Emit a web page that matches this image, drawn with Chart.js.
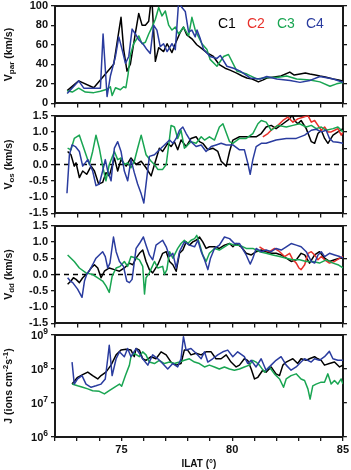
<!DOCTYPE html>
<html><head><meta charset="utf-8">
<script src="https://cdn.jsdelivr.net/npm/chart.js@4/dist/chart.umd.min.js"></script>
<style>
html,body{margin:0;padding:0;background:#fff;}
#wrap{position:relative;width:351px;height:470px;overflow:hidden;background:#fff;}
canvas{position:absolute;left:0;}
</style></head><body><div id="wrap">
<canvas id="p1"></canvas><canvas id="p2"></canvas><canvas id="p3"></canvas><canvas id="p4"></canvas>
</div>
<script>
// ---------------- DATA (ILAT in degrees, value) ----------------
const ilatTicks = [72,73,74,75,76,77,78,79,80,81,82,83,84,85];
const ilatLabels = [75,80,85];
const vparTicks = [0,20,40,60,80,100];
const vTicks = [-1.5,-1.0,-0.5,0,0.5,1.0,1.5];
const jTicks = [1e6,1e7,1e8,1e9];
const zeroRef = [[72,0],[85,0]];

// V_par (km/s)
const vparC1 = [[72.55,13],[73.07,23],[73.75,16],[74.2,28],[74.65,40],[74.87,72],[74.98,88],[75.1,55],[75.25,33],[75.4,40],[75.63,72],[75.78,92],[75.93,80],[76.08,80],[76.23,84],[76.3,98],[76.38,104],[76.53,43],[76.68,57],[76.9,53],[77.06,61],[77.28,52],[77.43,61],[77.66,73],[77.8,78],[77.95,70],[78.18,66],[78.4,60],[78.63,56],[78.85,52],[79.15,48],[79.4,40],[79.68,36],[79.9,34],[80.2,31],[80.45,28],[80.66,26],[80.9,25],[81.18,22],[81.4,24],[81.56,26],[81.9,27],[82.2,28],[82.6,32],[82.8,29],[83.06,30],[83.3,31],[83.5,30],[83.75,29],[83.96,28],[84.2,27],[84.56,25],[84.8,24],[85.0,23]];
const vparC3 = [[72.55,13],[72.78,11.6],[73.07,15.6],[73.37,11.6],[73.75,11],[74.05,12.5],[74.35,14.5],[74.5,17],[74.58,8],[74.73,16],[74.95,14],[75.1,17],[75.2,16],[75.3,30],[75.4,49.5],[75.55,61],[75.78,69],[75.93,61],[76.08,62.5],[76.23,71],[76.38,78],[76.53,86],[76.68,98],[76.83,89.5],[76.98,94.5],[77.13,80],[77.28,75],[77.43,78],[77.58,71],[77.8,78],[78.03,69],[78.18,88],[78.33,75],[78.48,68],[78.63,61],[78.86,55],[79.0,45],[79.31,38],[79.61,48],[79.83,50],[80.21,33],[80.66,30],[81.11,25],[81.56,26.5],[82.01,26.5],[82.46,28],[82.91,25],[83.51,24],[83.96,22],[84.41,17.5],[84.71,20],[85.0,21.5]];
const vparC4 = [[72.55,10],[73.07,23],[73.3,15.6],[74.05,15.6],[74.17,71],[74.35,7],[74.5,28],[74.73,48],[74.88,68],[75.03,55],[75.18,41],[75.33,48],[75.48,76],[75.63,71],[75.78,65],[76.0,60],[76.15,55],[76.3,51],[76.45,80],[76.6,75],[76.75,58],[76.9,61],[77.06,53],[77.28,61],[77.43,55],[77.58,104],[77.73,98],[77.88,94],[78.03,73],[78.18,75],[78.33,68],[78.41,75],[78.56,66],[78.71,55],[79.0,48],[79.31,46],[79.46,49],[79.76,38],[80.06,36],[80.36,33],[80.81,26],[81.26,25],[81.56,27.5],[82.01,25],[82.61,23.5],[83.06,21.5],[83.51,23.5],[83.96,27.5],[84.56,25],[85.0,21.5]];

// V_os (km/s)
const vosC1 = [[72.57,0.40],[72.72,0.30],[72.87,-0.05],[72.95,0.05],[73.10,-0.40],[73.25,-0.20],[73.43,-0.30],[73.63,-0.05],[73.78,-0.20],[73.97,-0.60],[74.15,-0.55],[74.30,-0.25],[74.45,-0.35],[74.68,0.20],[74.83,-0.20],[74.98,0.15],[75.21,-0.05],[75.43,0.20],[75.66,0.00],[75.89,0.10],[76.11,-0.10],[76.34,-0.35],[76.49,0.00],[76.71,0.50],[76.86,0.40],[77.09,0.65],[77.24,0.55],[77.39,0.70],[77.54,0.45],[77.69,0.75],[77.92,0.55],[78.14,0.80],[78.37,0.85],[78.52,0.70],[78.67,0.65],[78.90,0.45],[79.12,0.50],[79.35,0.40],[79.50,0.10],[79.73,-0.05],[79.88,0.40],[80.03,0.75],[80.33,0.85],[80.70,0.85],[81.08,0.85],[81.31,0.95],[81.53,1.15],[81.76,1.20],[81.98,1.10],[82.29,1.25],[82.59,1.40],[82.71,1.52],[82.81,1.35],[82.96,1.25],[83.11,1.35],[83.34,1.10],[83.57,0.70],[83.72,0.65],[83.87,0.95],[84.02,1.05],[84.17,0.80],[84.32,0.65],[84.55,0.90],[84.77,1.00],[85.00,1.10]];
const vosC2 = [[81.38,0.85],[81.61,0.95],[81.83,1.10],[82.06,1.20],[82.29,1.35],[82.51,1.45],[82.74,1.30],[82.96,1.40],[83.19,1.45],[83.42,1.50],[83.57,1.30],[83.72,1.35],[83.87,1.20],[84.02,1.05],[84.17,1.15],[84.32,1.00],[84.47,1.00],[84.62,1.05],[84.77,1.10],[84.92,0.90],[85.00,1.00]];
const vosC3 = [[72.57,0.50],[72.72,0.45],[72.87,0.80],[73.10,0.90],[73.25,0.60],[73.40,0.30],[73.55,0.00],[73.70,0.40],[73.85,0.90],[74.00,0.50],[74.15,-0.05],[74.30,-0.50],[74.45,0.00],[74.68,0.40],[74.83,0.15],[74.98,0.20],[75.13,0.00],[75.28,0.05],[75.43,-0.10],[75.58,0.10],[75.73,0.50],[75.89,0.90],[76.11,0.30],[76.34,0.10],[76.49,0.00],[76.64,-0.15],[76.86,-0.15],[77.02,0.00],[77.17,0.80],[77.24,1.20],[77.39,1.15],[77.54,0.80],[77.69,1.05],[77.84,0.50],[77.99,0.60],[78.14,0.70],[78.37,0.65],[78.60,0.85],[78.75,0.75],[78.97,0.85],[79.20,0.75],[79.42,1.15],[79.58,1.25],[79.88,0.70],[80.03,0.65],[80.33,0.80],[80.63,0.80],[80.93,0.95],[81.16,1.25],[81.31,1.35],[81.53,1.30],[81.76,1.05],[82.06,1.20],[82.44,1.15],[82.74,1.20],[83.04,1.25],[83.34,1.15],[83.57,1.20],[83.79,1.10],[84.02,1.15],[84.24,1.05],[84.55,1.10],[84.77,1.15],[85.00,1.00]];
const vosC4 = [[72.54,-0.88],[72.65,0.30],[72.77,0.60],[72.92,0.55],[73.10,0.40],[73.25,-0.05],[73.48,0.15],[73.70,-0.20],[73.85,-0.65],[74.00,-0.60],[74.15,-0.20],[74.27,0.15],[74.38,-0.20],[74.53,-0.50],[74.68,0.50],[74.83,0.70],[74.98,0.40],[75.13,-0.20],[75.28,-0.50],[75.43,0.15],[75.58,-0.25],[75.73,-0.60],[75.89,-0.90],[76.01,-1.18],[76.11,-0.60],[76.26,0.25],[76.49,0.30],[76.71,0.45],[76.94,0.60],[77.17,0.75],[77.32,0.65],[77.47,0.80],[77.62,1.05],[77.77,1.15],[77.92,0.95],[78.14,0.70],[78.37,0.55],[78.60,0.60],[78.82,0.40],[79.05,0.55],[79.27,0.60],[79.50,0.65],[79.73,0.60],[80.03,0.60],[80.33,0.45],[80.55,0.45],[80.70,0.05],[80.81,-0.30],[80.93,0.15],[81.08,0.55],[81.31,0.65],[81.53,0.65],[81.98,0.75],[82.44,0.80],[82.89,0.80],[83.27,0.90],[83.57,1.05],[83.79,1.08],[84.02,1.00],[84.24,1.05],[84.39,0.80],[84.55,0.70],[84.77,0.68],[85.00,0.65]];

// V_dd (km/s)
const vddC1 = [[72.57,-0.30],[72.72,-0.20],[72.83,-0.10],[72.95,-0.15],[73.10,-0.25],[73.25,-0.10],[73.48,0.05],[73.63,0.20],[73.78,0.30],[73.93,0.20],[74.08,-0.10],[74.23,0.10],[74.45,0.20],[74.68,0.15],[74.91,0.10],[75.13,0.20],[75.36,0.35],[75.51,0.30],[75.66,0.50],[75.81,0.65],[75.96,0.75],[76.11,0.40],[76.26,0.15],[76.41,0.05],[76.64,0.30],[76.86,0.65],[77.02,0.70],[77.17,0.40],[77.32,0.30],[77.47,0.10],[77.62,0.65],[77.77,0.75],[77.92,1.00],[78.07,0.90],[78.22,1.00],[78.37,1.05],[78.52,1.15],[78.67,1.00],[78.82,0.80],[78.97,0.85],[79.20,0.85],[79.42,0.80],[79.65,0.90],[79.88,0.95],[80.03,0.85],[80.18,0.95],[80.40,0.85],[80.63,0.65],[80.86,0.60],[81.08,0.70],[81.31,0.75],[81.53,0.70],[81.76,0.65],[81.98,0.65],[82.21,0.60],[82.44,0.50],[82.66,0.40],[82.89,0.45],[83.11,0.65],[83.27,0.60],[83.49,0.35],[83.72,0.60],[83.94,0.70],[84.17,0.50],[84.39,0.40],[84.62,0.45],[84.85,0.50],[85.00,0.50]];
const vddC2 = [[81.23,0.85],[81.46,0.75],[81.68,0.70],[81.91,0.80],[82.14,0.70],[82.36,0.55],[82.59,0.65],[82.74,0.45],[82.89,0.35],[83.01,0.20],[83.11,0.15],[83.27,0.30],[83.42,0.65],[83.57,0.70],[83.72,0.60],[83.87,0.45],[84.02,0.55],[84.17,0.45],[84.39,0.35],[84.62,0.40],[84.85,0.50],[85.00,0.55]];
const vddC3 = [[72.57,0.60],[72.72,0.50],[72.87,0.40],[73.10,0.20],[73.40,0.05],[73.70,0.00],[73.93,-0.10],[74.15,-0.20],[74.30,-0.35],[74.45,-0.55],[74.58,-0.05],[74.76,0.20],[74.94,0.25],[75.13,0.40],[75.28,0.25],[75.43,0.55],[75.66,0.50],[75.81,0.45],[75.96,0.25],[76.04,-0.60],[76.11,-0.10],[76.26,0.05],[76.49,0.40],[76.64,0.20],[76.86,0.25],[76.94,0.00],[77.05,0.15],[77.17,0.70],[77.32,0.50],[77.54,0.80],[77.69,0.95],[77.84,1.05],[77.99,0.95],[78.14,1.05],[78.30,1.10],[78.40,1.20],[78.52,0.95],[78.67,0.60],[78.82,0.40],[78.97,0.65],[79.20,0.80],[79.42,0.75],[79.65,0.85],[79.88,0.95],[80.10,0.90],[80.33,0.90],[80.63,0.80],[80.93,0.80],[81.23,0.70],[81.53,0.65],[81.83,0.60],[82.14,0.55],[82.44,0.50],[82.74,0.45],[83.04,0.45],[83.34,0.40],[83.64,0.40],[83.94,0.35],[84.24,0.45],[84.55,0.35],[84.77,0.30],[85.00,0.20]];
const vddC4 = [[72.57,-0.10],[72.69,-0.20],[72.80,-0.25],[73.02,-0.45],[73.22,-0.70],[73.33,-0.20],[73.43,0.00],[73.58,0.15],[73.70,0.30],[73.85,0.50],[74.00,0.60],[74.15,0.70],[74.27,0.55],[74.38,0.20],[74.48,0.35],[74.64,1.15],[74.76,0.70],[74.91,0.40],[75.09,0.25],[75.24,-0.20],[75.36,-0.25],[75.48,-0.15],[75.66,0.80],[75.81,0.95],[75.99,1.15],[76.11,0.90],[76.26,0.60],[76.41,0.45],[76.56,0.90],[76.86,1.05],[77.02,0.85],[77.17,0.55],[77.32,0.65],[77.47,0.20],[77.62,0.70],[77.84,1.00],[78.07,0.90],[78.30,0.85],[78.45,1.05],[78.60,0.70],[78.75,0.45],[78.90,0.15],[79.02,0.50],[79.20,0.80],[79.42,0.90],[79.65,1.15],[79.88,1.10],[80.10,0.95],[80.33,0.95],[80.63,0.60],[80.81,0.32],[80.93,0.50],[81.08,0.80],[81.31,0.70],[81.53,0.75],[81.76,0.70],[81.98,0.80],[82.21,0.75],[82.44,0.85],[82.66,0.95],[82.89,0.90],[83.11,0.85],[83.34,0.70],[83.57,0.40],[83.72,0.35],[83.87,0.60],[84.02,0.70],[84.17,0.55],[84.39,0.65],[84.62,0.60],[84.85,0.55],[85.00,0.50]];

// J (ions cm^-2 s^-1)
const jC1 = [[72.77,3.6e7],[73.02,5.7e7],[73.25,6.8e7],[73.48,8.1e7],[73.70,6.4e7],[73.93,5.1e7],[74.08,6.4e7],[74.30,8.1e7],[74.53,1.3e8],[74.76,2.6e8],[74.98,3.6e8],[75.21,3.8e8],[75.43,3.6e8],[75.58,2.3e8],[75.66,4.0e8],[75.81,3.6e8],[75.96,2.0e8],[76.11,1.8e8],[76.34,2.3e8],[76.56,2.0e8],[76.79,3.2e8],[77.02,2.6e8],[77.24,1.6e8],[77.47,1.3e8],[77.69,1.45e8],[77.84,3.6e8],[77.99,3.6e8],[78.14,2.6e8],[78.37,2.9e8],[78.60,2.6e8],[78.82,3.2e8],[79.05,3.2e8],[79.27,2.0e8],[79.50,2.0e8],[79.73,2.6e8],[79.95,1.6e8],[80.18,1.15e8],[80.33,1.3e8],[80.55,2.0e8],[80.70,1.8e8],[80.86,1.0e8],[81.01,5.1e7],[81.16,5.7e7],[81.38,9.2e7],[81.53,8.1e7],[81.76,1.15e8],[81.98,7.2e7],[82.14,6.4e7],[82.29,1.3e8],[82.44,1.6e8],[82.59,1.8e8],[82.74,2.0e8],[82.96,1.45e8],[83.11,2.0e8],[83.34,1.8e8],[83.49,2.0e8],[83.72,2.3e8],[83.87,2.0e8],[84.02,1.8e8],[84.17,1.3e8],[84.39,1.45e8],[84.62,1.6e8],[84.85,1.15e8],[85.00,1.3e8]];
const jC3 = [[72.77,3.6e7],[73.02,3.2e7],[73.25,2.9e7],[73.48,2.6e7],[73.70,2.3e7],[74.00,2.2e7],[74.23,1.85e7],[74.45,2.3e7],[74.68,2.9e7],[74.91,3.6e7],[75.01,3.1e7],[75.18,6.4e7],[75.36,1.3e8],[75.43,2.3e8],[75.58,2.9e8],[75.81,2.3e8],[75.96,3.2e8],[76.11,2.6e8],[76.26,1.6e8],[76.49,1.45e8],[76.71,1.8e8],[76.94,1.45e8],[77.17,1.6e8],[77.39,1.45e8],[77.62,1.6e8],[77.84,1.8e8],[78.07,2.0e8],[78.30,1.6e8],[78.52,1.45e8],[78.75,1.15e8],[78.97,1.3e8],[79.20,1.15e8],[79.42,1.0e8],[79.65,1.15e8],[79.88,1.0e8],[80.10,9.2e7],[80.33,1.0e8],[80.55,1.15e8],[80.78,1.3e8],[80.93,1.8e8],[81.08,1.6e8],[81.23,1.3e8],[81.46,8.1e7],[81.68,1.15e8],[81.91,7.2e7],[82.14,5.1e7],[82.32,2.9e7],[82.44,5.1e7],[82.66,6.4e7],[82.89,7.2e7],[83.11,5.1e7],[83.27,4.6e7],[83.42,2.6e7],[83.52,1.3e7],[83.64,3.2e7],[83.79,3.6e7],[84.02,4.1e7],[84.17,4.1e7],[84.32,7.2e7],[84.47,3.6e7],[84.62,4.6e7],[84.77,3.6e7],[84.92,5.1e7],[85.00,3.6e7]];
const jC4 = [[72.77,1.6e8],[72.87,3.6e7],[73.02,5.1e7],[73.22,6.4e7],[73.40,3.6e7],[73.63,2.9e7],[73.85,3.2e7],[74.08,3.6e7],[74.27,5.1e7],[74.38,2.0e8],[74.45,5.0e8],[74.58,6.4e7],[74.76,2.0e8],[74.91,3.2e8],[75.13,2.3e8],[75.28,4.0e8],[75.43,2.3e8],[75.66,4.0e8],[75.81,2.9e8],[75.96,2.0e8],[76.19,1.3e8],[76.41,2.6e8],[76.64,2.0e8],[76.86,1.45e8],[77.09,1.0e8],[77.32,1.45e8],[77.54,1.15e8],[77.69,2.0e8],[77.80,8.9e8],[77.92,3.6e8],[78.14,4.0e8],[78.37,2.9e8],[78.60,2.0e8],[78.75,3.2e8],[78.90,1.6e8],[79.12,2.0e8],[79.35,2.6e8],[79.58,3.2e8],[79.80,3.6e8],[80.03,2.3e8],[80.25,3.2e8],[80.55,2.3e8],[80.70,1.45e8],[80.86,1.8e8],[81.08,1.15e8],[81.31,2.0e8],[81.53,9.2e7],[81.76,1.3e8],[81.98,1.8e8],[82.21,2.3e8],[82.44,1.3e8],[82.66,9.2e7],[82.89,1.15e8],[83.11,1.6e8],[83.27,2.0e8],[83.57,1.6e8],[83.72,2.0e8],[83.94,1.8e8],[84.17,2.3e8],[84.39,3.3e8],[84.55,2.0e8],[84.77,1.8e8],[85.00,1.8e8]];

// ---------------- STYLE ----------------
const FONT = "'Liberation Sans', Arial, Helvetica, sans-serif";
const COL = {C1:'#000000', C2:'#e8302a', C3:'#19a552', C4:'#2a3c9f'};
const AXIS = '#1a1a1a';
const W = 351, PAD_TOP = 8, LEFT_W = 55, RIGHT_W = 8;

function pts(a){ return a.map(p => ({x:p[0], y:p[1]})); }

const textPlugin = {
  id: 'panelText',
  afterDraw(chart, args, o) {
    const ctx = chart.ctx, ca = chart.chartArea;
    // y-axis title with sub/superscripts
    if (o.title) {
      ctx.save();
      ctx.translate(o.titleX, (ca.top + ca.bottom) / 2 + (o.titleShift || 0));
      ctx.rotate(-Math.PI / 2);
      ctx.textBaseline = 'middle';
      ctx.fillStyle = '#111';
      let total = 0;
      const segs = o.title.map(s => {
        const f = s.s ? `bold ${o.smallSize}px ${FONT}` : `bold ${o.size}px ${FONT}`;
        ctx.font = f;
        const w = ctx.measureText(s.t).width;
        total += w;
        return {t: s.t, s: s.s, f, w};
      });
      let x = -total / 2;
      segs.forEach(s => {
        ctx.font = s.f;
        const dy = s.s === 'sub' ? 3 : (s.s === 'sup' ? -3.5 : 0);
        ctx.fillText(s.t, x, dy);
        x += s.w;
      });
      ctx.restore();
    }
    // power-of-ten tick labels
    if (o.powLabels) {
      const sc = chart.scales.y;
      ctx.save();
      ctx.fillStyle = '#111';
      ctx.textBaseline = 'middle';
      o.powLabels.forEach(v => {
        const y = sc.getPixelForValue(v);
        const e = String(Math.round(Math.log10(v)));
        ctx.font = `bold 11px ${FONT}`;
        const w1 = ctx.measureText('10').width;
        ctx.font = `bold 8.5px ${FONT}`;
        const w2 = ctx.measureText(e).width;
        const right = ca.left - 7;
        ctx.font = `bold 11px ${FONT}`;
        ctx.fillText('10', right - w1 - w2, y + 1);
        ctx.font = `bold 8.5px ${FONT}`;
        ctx.fillText(e, right - w2, y - 3.5);
      });
      ctx.restore();
    }
    // legend text
    if (o.legend) {
      ctx.save();
      ctx.font = `14px ${FONT}`;
      ctx.textBaseline = 'alphabetic';
      o.legend.forEach(l => {
        ctx.fillStyle = l.c;
        ctx.fillText(l.t, ca.left + l.dx, ca.top + l.dy);
      });
      ctx.restore();
    }
  }
};

function lineDs(label, arr, color, order) {
  return {label, data: pts(arr), borderColor: color, borderWidth: 1.5, pointRadius: 0,
          tension: 0, fill: false, order, borderJoinStyle: 'round'};
}
function zeroDs() {
  return {label: 'zero', data: pts(zeroRef), borderColor: '#000', borderWidth: 1.4,
          borderDash: [5, 4], pointRadius: 0, fill: false, order: 10};
}

const tickFont = {family: FONT, size: 11, weight: 'bold'};

function makePanel(id, cfg) {
  const cv = document.getElementById(id);
  const h = PAD_TOP + (cfg.bottom - cfg.top) + cfg.below;
  cv.width = W; cv.height = h;
  cv.style.width = W + 'px'; cv.style.height = h + 'px';
  cv.style.top = (cfg.top - PAD_TOP) + 'px';
  const yType = cfg.log ? 'logarithmic' : 'linear';
  const gridOpt = {display: true, drawOnChartArea: false, drawTicks: true, tickLength: 4,
                   tickColor: AXIS, tickWidth: 1.3, lineWidth: 1.3, color: AXIS};
  const borderOpt = {display: true, color: AXIS, width: 2};
  new Chart(cv, {
    type: 'line',
    data: {datasets: cfg.datasets},
    plugins: [textPlugin],
    options: {
      responsive: false, animation: false, devicePixelRatio: 1, events: [],
      layout: {padding: {top: PAD_TOP, left: 0, right: 0, bottom: 0}},
      plugins: {legend: {display: false}, tooltip: {enabled: false}, panelText: cfg.text},
      scales: {
        x: {type: 'linear', position: 'bottom', min: 72, max: 85,
            afterFit: s => { s.height = cfg.below; },
            afterBuildTicks: s => { s.ticks = ilatTicks.map(v => ({value: v})); },
            ticks: {autoSkip: false, maxRotation: 0, padding: 2, font: tickFont, color: '#111',
                    callback: v => (cfg.xLabels && ilatLabels.includes(v)) ? String(v) : ''},
            grid: gridOpt, border: borderOpt,
            title: cfg.xTitle ? {display: true, text: 'ILAT (°)', color: '#111',
                    font: {family: FONT, size: 10, weight: 'bold'}, padding: {top: 0, bottom: 0}} : {display: false}},
        xTop: {type: 'linear', position: 'top', min: 72, max: 85,
            afterFit: s => { s.height = 0; },
            ticks: {display: false}, grid: {display: false}, border: borderOpt},
        y: {type: yType, position: 'left', min: cfg.min, max: cfg.max,
            afterFit: s => { s.width = LEFT_W; },
            afterBuildTicks: s => { s.ticks = cfg.yTicks.map(v => ({value: v})); },
            ticks: {display: !cfg.log, padding: 3, font: tickFont, color: '#111',
                    callback: cfg.fmt},
            grid: gridOpt, border: borderOpt},
        y2: {type: yType, position: 'right', min: cfg.min, max: cfg.max,
            afterFit: s => { s.width = RIGHT_W; },
            afterBuildTicks: s => { s.ticks = cfg.yTicks.map(v => ({value: v})); },
            ticks: {display: false},
            grid: gridOpt, border: borderOpt}
      }
    }
  });
}

const legendItems = [
  {t: 'C1', c: COL.C1, dx: 163, dy: 22.5},
  {t: 'C2', c: COL.C2, dx: 192, dy: 22.5},
  {t: 'C3', c: COL.C3, dx: 222, dy: 22.5},
  {t: 'C4', c: COL.C4, dx: 251, dy: 22.5}
];
const fmtV = v => Number(v).toFixed(1);

makePanel('p1', {top: 4, bottom: 105, below: 8, min: 0, max: 100, yTicks: vparTicks,
  fmt: v => String(v),
  datasets: [lineDs('C1', vparC1, COL.C1, 3), lineDs('C3', vparC3, COL.C3, 1), lineDs('C4', vparC4, COL.C4, 0)],
  text: {title: [{t: 'V'}, {t: 'par', s: 'sub'}, {t: ' (km/s)'}], titleX: 9, size: 10.5, smallSize: 8, legend: legendItems}});

makePanel('p2', {top: 114, bottom: 215, below: 8, min: -1.5, max: 1.5, yTicks: vTicks, fmt: fmtV,
  datasets: [zeroDs(), lineDs('C1', vosC1, COL.C1, 3), lineDs('C2', vosC2, COL.C2, 2), lineDs('C3', vosC3, COL.C3, 1), lineDs('C4', vosC4, COL.C4, 0)],
  text: {title: [{t: 'V'}, {t: 'os', s: 'sub'}, {t: ' (km/s)'}], titleX: 9, size: 10.5, smallSize: 8}});

makePanel('p3', {top: 224, bottom: 325, below: 8, min: -1.5, max: 1.5, yTicks: vTicks, fmt: fmtV,
  datasets: [zeroDs(), lineDs('C1', vddC1, COL.C1, 3), lineDs('C2', vddC2, COL.C2, 2), lineDs('C3', vddC3, COL.C3, 1), lineDs('C4', vddC4, COL.C4, 0)],
  text: {title: [{t: 'V'}, {t: 'dd', s: 'sub'}, {t: ' (km/s)'}], titleX: 9, size: 10.5, smallSize: 8}});

makePanel('p4', {top: 335, bottom: 437, below: 33, log: true, min: 1e6, max: 1e9, yTicks: jTicks,
  fmt: v => '', xLabels: true, xTitle: true,
  datasets: [lineDs('C1', jC1, COL.C1, 3), lineDs('C3', jC3, COL.C3, 1), lineDs('C4', jC4, COL.C4, 0)],
  text: {title: [{t: 'J (ions cm'}, {t: '-2', s: 'sup'}, {t: 's'}, {t: '-1', s: 'sup'}, {t: ')'}], titleX: 9, size: 10.5, smallSize: 8, powLabels: jTicks}});
</script>
</body></html>
